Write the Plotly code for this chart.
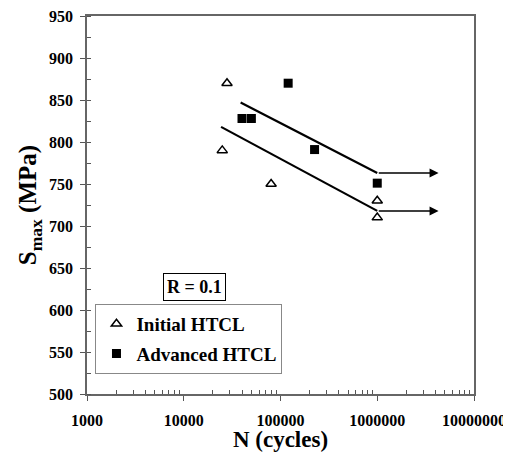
import numpy as np
import plotly.graph_objects as go

# Data
init_N = [28000, 25000, 80000, 1000000, 1000000]
init_S = [870, 790, 750, 730, 710]
adv_N = [40000, 50000, 120000, 225000, 1000000]
adv_S = [828, 828, 870, 791, 751]

fit_adv_N = [38700, 1000000]
fit_adv_S = [847, 763]
fit_init_N = [24300, 1000000]
fit_init_S = [818, 718]
runout_end_N = 4300000

x_tickvals = [1000, 10000, 100000, 1000000, 10000000]
x_ticktext = ["1000", "10000", "100000", "1000000", "10000000"]

FONT = "Liberation Serif"

fig = go.Figure()

fig.add_trace(go.Scatter(x=fit_adv_N, y=fit_adv_S, mode="lines",
                         line=dict(color="black", width=2.2), showlegend=False, hoverinfo="skip"))
fig.add_trace(go.Scatter(x=fit_init_N, y=fit_init_S, mode="lines",
                         line=dict(color="black", width=2.2), showlegend=False, hoverinfo="skip"))

fig.add_trace(go.Scatter(x=init_N, y=init_S, mode="markers", name="Initial HTCL",
                         legendgroup="a",
                         marker=dict(symbol="triangle-up-open", size=9, color="black",
                                     line=dict(width=1.5, color="black"))))
fig.add_trace(go.Scatter(x=adv_N, y=adv_S, mode="markers", name="Advanced HTCL",
                         legendgroup="b",
                         marker=dict(symbol="square", size=9, color="black")))

# run-out arrows
for yv, nstart in [(fit_adv_S[1], fit_adv_N[1]), (fit_init_S[1], fit_init_N[1])]:
    fig.add_annotation(x=np.log10(runout_end_N), y=yv, ax=np.log10(nstart), ay=yv,
                       xref="x", yref="y", axref="x", ayref="y", text="",
                       showarrow=True, arrowhead=2, arrowsize=1.2, arrowwidth=1.5,
                       arrowcolor="black")

# plot area in window pixels: x 86.5..474.5, y 15.7..394.3
fig.add_annotation(x=(194 - 86.5) / 388, y=(394.3 - 287.5) / 378.6, xref="paper", yref="paper",
                   xanchor="center", yanchor="middle",
                   text="<b>R = 0.1</b>",
                   showarrow=False, font=dict(family=FONT, size=18, color="black"),
                   bordercolor="black", borderwidth=1, borderpad=3, bgcolor="white")

fig.update_layout(
    width=503, height=444,
    margin=dict(l=78.5, r=36.5, t=7.7, b=57.7),
    paper_bgcolor="white", plot_bgcolor="white",
    font=dict(family=FONT, color="black"),
    legend=dict(x=(95 - 86.5) / 388, y=(394.3 - 304) / 378.6, xanchor="left", yanchor="top",
                bordercolor="#888", borderwidth=1, bgcolor="white",
                font=dict(family=FONT, size=19, color="black", weight="bold"),
                traceorder="grouped", tracegroupgap=2),
    xaxis=dict(type="log", range=[3, 7], tickvals=x_tickvals, ticktext=x_ticktext,
               ticks="outside", ticklen=5, tickcolor="#555", showgrid=False,
               showline=True, linecolor="#666", linewidth=1.5, mirror=True,
               tickfont=dict(family=FONT, size=16, weight="bold"),
               ticklabelstandoff=6, automargin=False, ticklabeloverflow="allow",
               minor=dict(tickvals=[m * 10 ** d for d in range(3, 7) for m in range(2, 10)],
                          ticks="inside", ticklen=4, tickcolor="#555", showgrid=False),
               title=dict(text="<b>N (cycles)</b>", font=dict(family=FONT, size=23), standoff=10),
               zeroline=False),
    yaxis=dict(range=[500, 950], dtick=50, tick0=500,
               ticks="outside", ticklen=5, tickcolor="#555", showgrid=False,
               showline=True, linecolor="#666", linewidth=1.5, mirror=True,
               tickfont=dict(family=FONT, size=16, weight="bold"),
               ticklabelstandoff=4, automargin=False, ticklabeloverflow="allow",
               minor=dict(dtick=25, ticks="inside", ticklen=4, tickcolor="#555", showgrid=False),
               title=dict(text="<b>S<sub>max</sub> (MPa)</b>", font=dict(family=FONT, size=25), standoff=5),
               zeroline=False),
)

fig.write_html("out.html")
